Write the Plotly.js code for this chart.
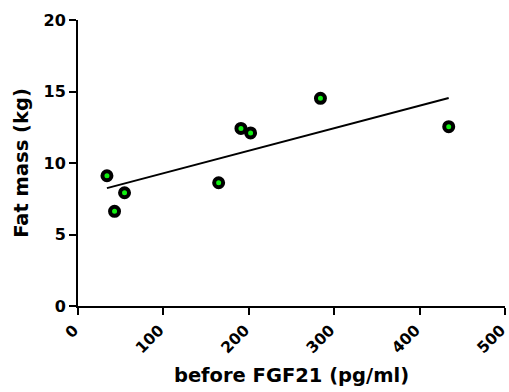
<!DOCTYPE html>
<html>
<head>
<meta charset="utf-8">
<script src="https://cdn.plot.ly/plotly-3.0.1.min.js"></script>
<style>html,body{margin:0;padding:0;background:#fff}#chart{width:509px;height:392px}</style>
</head>
<body>
<div id="chart"></div>
<script>
// Data
const fgf21 = [33.9, 42.8, 54.5, 164.7, 190.8, 202.1, 283.9, 434.1];
const fatMass = [9.11, 6.62, 7.92, 8.62, 12.42, 12.1, 14.52, 12.54];
const xTicks = [0, 100, 200, 300, 400, 500];
const yTicks = [0, 5, 10, 15, 20];

// Linear regression fit drawn over the data range
const n = fgf21.length;
const mx = fgf21.reduce((a, b) => a + b, 0) / n;
const my = fatMass.reduce((a, b) => a + b, 0) / n;
let sxy = 0, sxx = 0;
for (let i = 0; i < n; i++) { sxy += (fgf21[i] - mx) * (fatMass[i] - my); sxx += (fgf21[i] - mx) ** 2; }
const slope = sxy / sxx, intercept = my - slope * mx;
const xmin = Math.min(...fgf21), xmax = Math.max(...fgf21);
const fitX = [xmin, xmax];
const fitY = fitX.map(v => intercept + slope * v);

const font = {family: '"DejaVu Sans", sans-serif', color: '#000'};

const traces = [
  {x: fitX, y: fitY, mode: 'lines', line: {color: '#000', width: 2}, hoverinfo: 'skip'},
  {x: fgf21, y: fatMass, mode: 'markers',
   marker: {size: 9, color: '#10f010', line: {color: '#000', width: 4}}}
];

const layout = {
  width: 509, height: 392,
  margin: {l: 78, r: 4, t: 20, b: 86},
  paper_bgcolor: '#fff', plot_bgcolor: '#fff',
  showlegend: false,
  xaxis: {
    range: [0, 500], tickvals: xTicks, ticktext: xTicks.map(String),
    tickangle: -45, ticks: 'outside', ticklen: 7, tickwidth: 2, tickcolor: '#000',
    ticklabeloverflow: 'allow', ticklabelshift: -4,
    showline: true, linecolor: '#000', linewidth: 2, showgrid: false, zeroline: false,
    tickfont: Object.assign({size: 15.5, weight: 'bold'}, font),
    title: {text: '<b>before FGF21 (pg/ml)</b>', font: Object.assign({size: 19.5}, font), standoff: 12}
  },
  yaxis: {
    range: [0, 20], tickvals: yTicks, ticktext: yTicks.map(String),
    ticks: 'outside', ticklen: 7, tickwidth: 2, tickcolor: '#000',
    showline: true, linecolor: '#000', linewidth: 2, showgrid: false, zeroline: false,
    tickfont: Object.assign({size: 16, weight: 'bold'}, font),
    title: {text: '<b>Fat mass (kg)</b>', font: Object.assign({size: 19.5}, font), standoff: 10}
  }
};

Plotly.newPlot('chart', traces, layout, {displayModeBar: false, staticPlot: true});
</script>
</body>
</html>
